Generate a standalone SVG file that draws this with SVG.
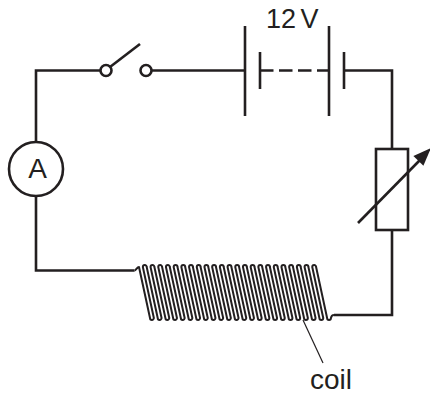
<svg xmlns="http://www.w3.org/2000/svg" width="430" height="394" viewBox="0 0 430 394">
<style>
.w{fill:none;stroke:#231f20;stroke-width:2.6;stroke-linecap:butt;stroke-linejoin:miter}
.c{fill:none;stroke:#231f20;stroke-width:2;stroke-linejoin:round}
.t{font-family:"Liberation Sans",Arial,sans-serif;fill:#231f20}
</style>
<rect width="430" height="394" fill="#fff"/>
<g id="connectors" class="w">
<path d="M101,70.5 H36 V142"/>
<path d="M36,196 V270.5 H134.5"/>
<path d="M151,70.5 H245"/>
<path d="M344,70.5 H392 V149"/>
<path d="M392,230 V315 H334"/>
</g>
<g id="switch" class="w">
<circle cx="106" cy="70.5" r="5.5"/>
<circle cx="146" cy="70.5" r="5.5"/>
<line x1="110" y1="67" x2="140" y2="44"/>
</g>
<g id="battery" class="w">
<line x1="245" y1="26" x2="245" y2="116"/>
<line x1="260" y1="52" x2="260" y2="89"/>
<line x1="260" y1="70.5" x2="329" y2="70.5" stroke-dasharray="13.5,5.5"/>
<line x1="329" y1="26" x2="329" y2="116"/>
<line x1="344" y1="52" x2="344" y2="89"/>
</g>
<text id="label-12V" class="t" x="266" y="28" font-size="27" word-spacing="-3">12 V</text>
<g id="ammeter">
<circle class="w" cx="36" cy="169" r="27"/>
<text class="t" x="37.5" y="178" font-size="28" text-anchor="middle">A</text>
</g>
<g id="resistor">
<rect class="w" x="376" y="149" width="32" height="81"/>
<line class="w" x1="358" y1="223" x2="420" y2="160"/>
<polygon points="431,148 423.4,165.7 413.4,155.9" fill="#231f20"/>
</g>
<g id="coil">
<path class="c" d="M134.5,270.5 c1.5,0 2.5,-3.5 4.5,-3.5 l11,51a1.925,1.925 0 0 0 3.85,0l-11,-51a1.925,1.925 0 0 1 3.85,0l11,51a1.925,1.925 0 0 0 3.85,0l-11,-51a1.925,1.925 0 0 1 3.85,0l11,51a1.925,1.925 0 0 0 3.85,0l-11,-51a1.925,1.925 0 0 1 3.85,0l11,51a1.925,1.925 0 0 0 3.85,0l-11,-51a1.925,1.925 0 0 1 3.85,0l11,51a1.925,1.925 0 0 0 3.85,0l-11,-51a1.925,1.925 0 0 1 3.85,0l11,51a1.925,1.925 0 0 0 3.85,0l-11,-51a1.925,1.925 0 0 1 3.85,0l11,51a1.925,1.925 0 0 0 3.85,0l-11,-51a1.925,1.925 0 0 1 3.85,0l11,51a1.925,1.925 0 0 0 3.85,0l-11,-51a1.925,1.925 0 0 1 3.85,0l11,51a1.925,1.925 0 0 0 3.85,0l-11,-51a1.925,1.925 0 0 1 3.85,0l11,51a1.925,1.925 0 0 0 3.85,0l-11,-51a1.925,1.925 0 0 1 3.85,0l11,51a1.925,1.925 0 0 0 3.85,0l-11,-51a1.925,1.925 0 0 1 3.85,0l11,51a1.925,1.925 0 0 0 3.85,0l-11,-51a1.925,1.925 0 0 1 3.85,0l11,51a1.925,1.925 0 0 0 3.85,0l-11,-51a1.925,1.925 0 0 1 3.85,0l11,51a1.925,1.925 0 0 0 3.85,0l-11,-51a1.925,1.925 0 0 1 3.85,0l11,51a1.925,1.925 0 0 0 3.85,0l-11,-51a1.925,1.925 0 0 1 3.85,0l11,51a1.925,1.925 0 0 0 3.85,0l-11,-51a1.925,1.925 0 0 1 3.85,0l11,51a1.925,1.925 0 0 0 3.85,0l-11,-51a1.925,1.925 0 0 1 3.85,0l11,51a1.925,1.925 0 0 0 3.85,0l-11,-51a1.925,1.925 0 0 1 3.85,0l11,51a1.925,1.925 0 0 0 3.85,0l-11,-51a1.925,1.925 0 0 1 3.85,0l11,51a1.925,1.925 0 0 0 3.85,0l-11,-51a1.925,1.925 0 0 1 3.85,0l11,51a1.925,1.925 0 0 0 3.85,0l-11,-51a1.925,1.925 0 0 1 3.85,0l11,51a1.925,1.925 0 0 0 3.85,0l-11,-51a1.925,1.925 0 0 1 3.85,0l11,51a1.925,1.925 0 0 0 3.85,0l-11,-51a1.925,1.925 0 0 1 3.85,0 l11,51 a1.925,1.925 0 0 0 3.85,0 q0.5,-3 3,-3"/>
</g>
<g id="coil-label">
<line x1="303" y1="320" x2="323" y2="363" stroke="#231f20" stroke-width="1.2"/>
<text class="t" x="331" y="389" font-size="28" text-anchor="middle">coil</text>
</g>
</svg>
